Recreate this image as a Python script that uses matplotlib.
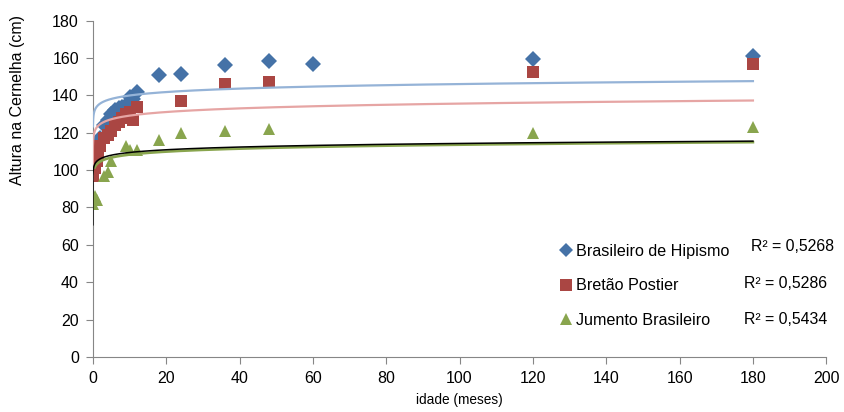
import numpy as np
import matplotlib
matplotlib.use("Agg")
import matplotlib.pyplot as plt
from matplotlib.lines import Line2D

plt.rcParams['font.family'] = ['Liberation Sans', 'DejaVu Sans']

# dados (idade em meses, altura em cm)
hip_x = [0, 1, 2, 3, 4, 5, 6, 7, 8, 9, 10, 11, 12, 18, 24, 36, 48, 60, 120, 180]
hip_y = [103, 110, 117, 124, 127, 130, 132, 133, 134, 135, 139, 138, 142,
         151, 151.5, 156, 158.5, 157, 159.5, 161]

bret_x = [0, 0.5, 1, 1.5, 2, 3, 4, 5, 6, 7, 8, 9, 10, 11, 12, 24, 36, 48, 120, 180]
bret_y = [97, 101, 105, 109, 113, 117, 119, 121, 124, 126, 128, 130, 131, 127,
          134, 137, 146, 147, 152.5, 157]

jum_x = [0, 0.5, 1, 3, 4, 5, 9, 10, 12, 18, 24, 36, 48, 120, 180]
jum_y = [82, 86, 84, 97, 99, 105, 113, 111, 111, 116, 120, 121, 122, 120, 123]

labels = ["Brasileiro de Hipismo", "Bretão Postier", "Jumento Brasileiro"]
r2_texts = ["R² = 0,5268", "R² = 0,5286", "R² = 0,5434"]

# linhas de tendência logarítmicas: y = a*ln(x) + b, a partir de x0
trend_hip = (2.66, 133.8, 0.02)
trend_bret = (2.8, 122.7, 5e-5)
trend_jum = (2.3, 103.0, 0.5)
trend_black = (2.1, 104.6, 1e-7)

c_blue = "#4572A7"
c_red = "#AA4643"
c_green = "#89A54E"

fig = plt.figure(figsize=(8.44, 4.12), dpi=100)
ax = fig.add_axes([0.110, 0.1335, 0.869, 0.8165])


def trend(ax, coef, **kw):
    a, b, x0 = coef
    xs = np.logspace(np.log10(x0), np.log10(180), 600)
    ax.plot(xs, a * np.log(xs) + b, **kw)


ax.plot(hip_x, hip_y, "D", color=c_blue, markersize=8, markeredgewidth=0, zorder=3)
ax.plot(bret_x, bret_y, "s", color=c_red, markersize=8, markeredgewidth=0, zorder=3)
ax.plot(jum_x, jum_y, "^", color=c_green, markersize=9, markeredgewidth=0, zorder=3)

trend(ax, trend_hip, color="#95B3D7", lw=1.6, zorder=4)
trend(ax, trend_bret, color="#E6A5A4", lw=1.6, zorder=4)
trend(ax, trend_jum, color=c_green, lw=1.9, zorder=4)
trend(ax, trend_black, color="black", lw=1.1, zorder=5)

ax.set_xlim(0, 200)
ax.set_ylim(0, 180)
ax.set_xticks(range(0, 201, 20))
ax.set_yticks(range(0, 181, 20))
for s in ["top", "right"]:
    ax.spines[s].set_visible(False)
for s in ["left", "bottom"]:
    ax.spines[s].set_color("#868686")
ax.tick_params(colors="#868686", labelcolor="black", labelsize=11.5, length=5, pad=5)

ax.set_xlabel("idade (meses)", fontsize=9.8, labelpad=5)
ax.set_ylabel("Altura na Cernelha (cm)", fontsize=11.5)
ax.yaxis.set_label_coords(-0.092, 0.764)

handles = [
    Line2D([], [], ls="none", marker="D", color=c_blue, markersize=7, markeredgewidth=0),
    Line2D([], [], ls="none", marker="s", color=c_red, markersize=8, markeredgewidth=0),
    Line2D([], [], ls="none", marker="^", color=c_green, markersize=8, markeredgewidth=0),
]
fig.legend(handles, labels, loc="upper left", bbox_to_anchor=(552 / 844, 1 - 236 / 412),
           frameon=False, fontsize=11.6, handlelength=0.7, handletextpad=0.3,
           labelspacing=1.2, borderpad=0)

for txt, xp, yp in zip(r2_texts, [751, 744, 744], [247, 284, 319]):
    fig.text(xp / 844, 1 - yp / 412, txt, fontsize=11.4, va="center", ha="left")

fig.savefig("out.png", dpi=100)
